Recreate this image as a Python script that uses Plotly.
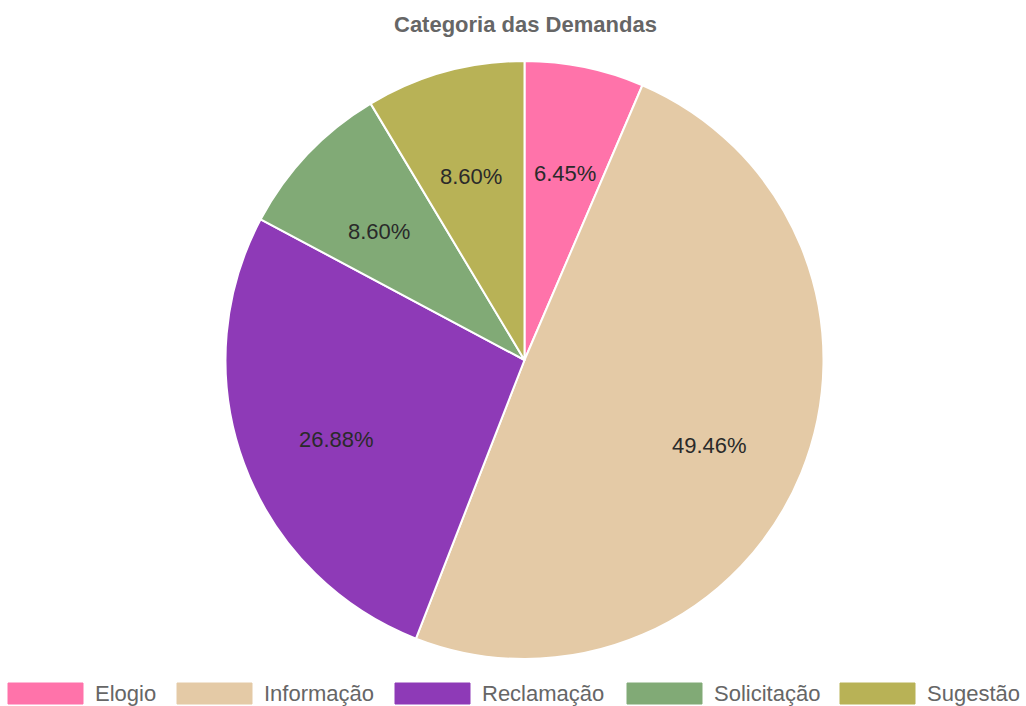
import math
import plotly.graph_objects as go

categories = ["Elogio", "Informação", "Reclamação", "Solicitação", "Sugestão"]
counts = [12, 92, 50, 16, 16]
colors = ["#FF73AA", "#E4CAA6", "#8E3AB7", "#81AA76", "#B8B256"]
title_text = "Categoria das Demandas"

W, H = 1026, 706
FONT = "Liberation Sans, Arial, sans-serif"

# pie geometry (pixels)
CX, CY, R = 524.5, 360.0, 299.0

fig = go.Figure()
fig.add_trace(go.Pie(
    labels=categories,
    values=counts,
    sort=False,
    direction="clockwise",
    rotation=0,
    marker=dict(colors=colors, line=dict(color="white", width=2)),
    textinfo="none",
    hoverinfo="label+value+percent",
    domain=dict(x=[(CX - R) / W, (CX + R) / W], y=[1 - (CY + R) / H, 1 - (CY - R) / H]),
    showlegend=False,
))

# percentage labels, positioned from the data (cumulative angles)
total = sum(counts)
cum = 0
for v in counts:
    mid = (cum + v / 2) / total * 2 * math.pi
    cum += v
    px = CX + 0.67 * R * math.sin(mid)
    py = CY - 0.67 * R * math.cos(mid) + 10
    fig.add_annotation(xref="paper", yref="paper", x=px / W, y=1 - py / H,
                       xanchor="center", yanchor="middle", showarrow=False,
                       text=f"{v / total * 100:.2f}%",
                       font=dict(family=FONT, size=22, color="#2a2a2a"))

# custom legend (wide swatches like the reference)
sw_x = [8, 177, 395, 627, 840]
sw_w = 75
for cat, col, x0 in zip(categories, colors, sw_x):
    fig.add_shape(type="rect", xref="paper", yref="paper",
                  x0=x0 / W, x1=(x0 + sw_w) / W,
                  y0=1 - 704 / H, y1=1 - 683 / H,
                  fillcolor=col, line=dict(color=col, width=1), opacity=1)
    fig.add_annotation(xref="paper", yref="paper",
                       x=(x0 + sw_w + 10) / W, y=1 - 693.5 / H,
                       xanchor="left", yanchor="middle", showarrow=False,
                       text=cat, font=dict(family=FONT, size=22, color="#666"))

fig.add_annotation(xref="paper", yref="paper", x=525 / W, y=1 - 24 / H,
                   xanchor="center", yanchor="middle", showarrow=False,
                   text="<b>" + title_text + "</b>",
                   font=dict(family=FONT, size=22, color="#666"))

fig.update_layout(
    width=W, height=H,
    margin=dict(l=0, r=0, t=0, b=0),
    paper_bgcolor="white", plot_bgcolor="white",
)
fig.write_html(
    "out.html",
    config={"displayModeBar": False},
    post_script="document.body.style.margin='0';document.body.style.overflow='hidden';",
)
